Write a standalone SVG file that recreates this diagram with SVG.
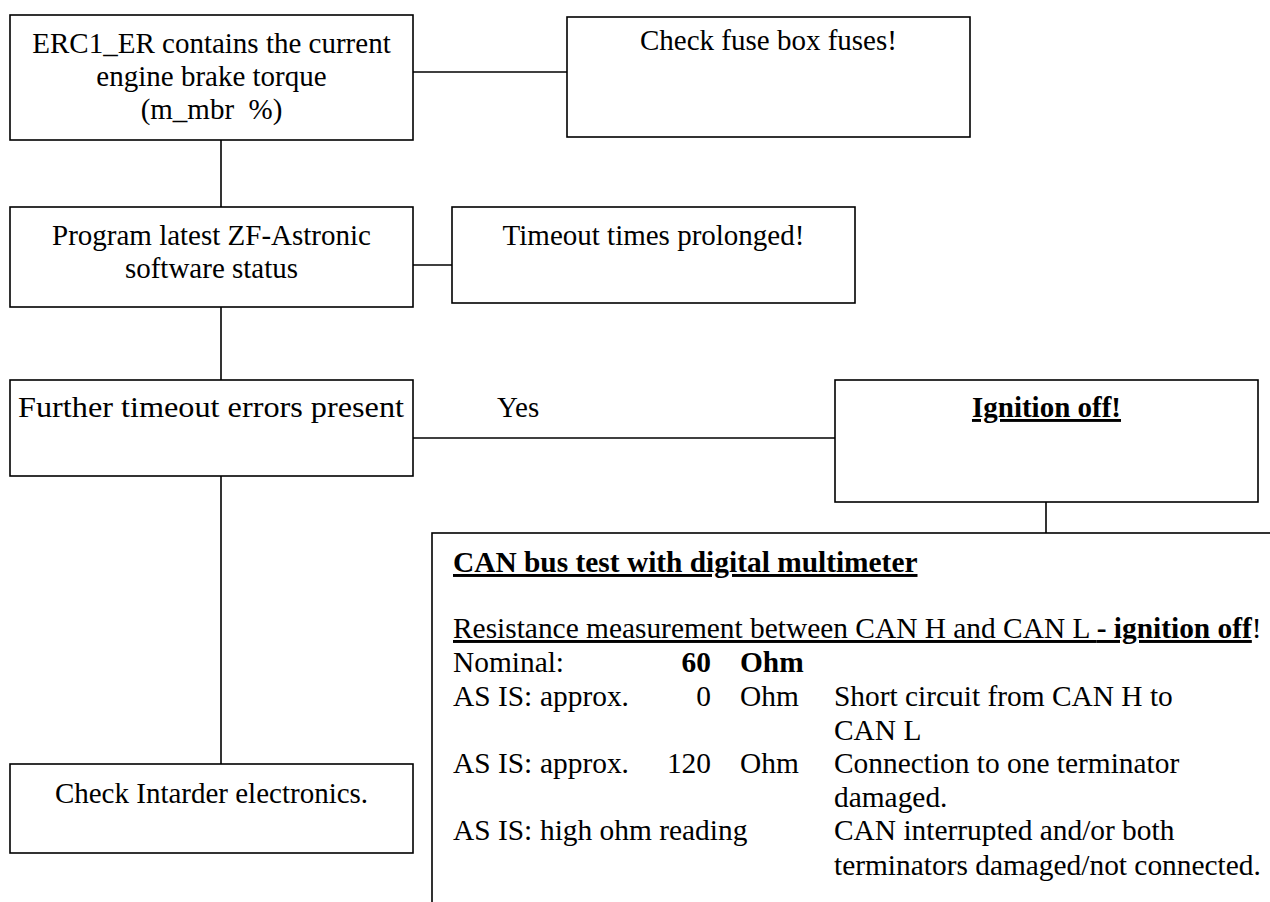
<svg xmlns="http://www.w3.org/2000/svg" width="1270" height="902" viewBox="0 0 1270 902">
<style>
  .box { fill: #ffffff; stroke: #000000; stroke-width: 1.6; }
  .conn line { stroke: #000000; stroke-width: 1.6; }
  text { font-family: "Liberation Serif", "Times New Roman", serif; font-size: 29px; fill: #000000; white-space: pre; }
  #node-canbus text { font-size: 29.4px; }
  .c { text-anchor: middle; }
  .r { text-anchor: end; }
  .b { font-weight: bold; }
  .u { text-decoration: underline; }
</style>
<rect width="1270" height="902" fill="#ffffff"/>
<g id="connectors" class="conn">
  <line x1="413" y1="72" x2="567" y2="72"/>
  <line x1="221" y1="140" x2="221" y2="207"/>
  <line x1="413" y1="265" x2="452" y2="265"/>
  <line x1="221" y1="307" x2="221" y2="380"/>
  <line x1="413" y1="438" x2="835" y2="438"/>
  <line x1="1046" y1="502" x2="1046" y2="533"/>
  <line x1="221" y1="476" x2="221" y2="764"/>
</g>
<g id="node-erc1">
  <rect class="box" x="10" y="15" width="403" height="125"/>
  <text class="c" x="211.5" y="53">ERC1_ER contains the current</text>
  <text class="c" x="211.5" y="86">engine brake torque</text>
  <text class="c" x="211.5" y="119">(m_mbr  %)</text>
</g>
<g id="node-fuse">
  <rect class="box" x="567" y="17" width="403" height="120"/>
  <text class="c" x="768.5" y="50">Check fuse box fuses!</text>
</g>
<g id="node-program">
  <rect class="box" x="10" y="207" width="403" height="100"/>
  <text class="c" x="211.5" y="245">Program latest ZF-Astronic</text>
  <text class="c" x="211.5" y="278">software status</text>
</g>
<g id="node-timeout">
  <rect class="box" x="452" y="207" width="403" height="96"/>
  <text class="c" x="653.5" y="245">Timeout times prolonged!</text>
</g>
<g id="node-further">
  <rect class="box" x="10" y="380" width="403" height="96"/>
  <text x="18" y="417" textLength="386" lengthAdjust="spacingAndGlyphs">Further timeout errors present</text>
</g>
<g id="label-yes">
  <text x="497" y="417">Yes</text>
</g>
<g id="node-ignition">
  <rect class="box" x="835" y="380" width="423" height="122"/>
  <text class="c b u" x="1046.5" y="417">Ignition off!</text>
</g>
<g id="node-intarder">
  <rect class="box" x="10" y="764" width="403" height="89"/>
  <text class="c" x="211.5" y="803">Check Intarder electronics.</text>
</g>
<g id="node-canbus">
  <rect class="box" x="432" y="533" width="900" height="450"/>
  <text class="b u" x="453" y="572">CAN bus test with digital multimeter</text>
  <text x="453" y="638"><tspan class="u">Resistance measurement between CAN H and CAN L </tspan><tspan class="b u">- ignition off</tspan><tspan>!</tspan></text>
  <text x="453" y="672">Nominal:</text>
  <text class="b r" x="711" y="672">60</text>
  <text class="b" x="740" y="672">Ohm</text>
  <text x="453" y="706">AS IS:</text>
  <text x="540" y="706">approx.</text>
  <text class="r" x="711" y="706">0</text>
  <text x="740" y="706">Ohm</text>
  <text x="834" y="706">Short circuit from CAN H to</text>
  <text x="834" y="740">CAN L</text>
  <text x="453" y="773">AS IS:</text>
  <text x="540" y="773">approx.</text>
  <text class="r" x="711" y="773">120</text>
  <text x="740" y="773">Ohm</text>
  <text x="834" y="773">Connection to one terminator</text>
  <text x="834" y="807">damaged.</text>
  <text x="453" y="840">AS IS:</text>
  <text x="540" y="840">high ohm reading</text>
  <text x="834" y="840">CAN interrupted and/or both</text>
  <text x="834" y="875">terminators damaged/not connected.</text>
</g>
</svg>
